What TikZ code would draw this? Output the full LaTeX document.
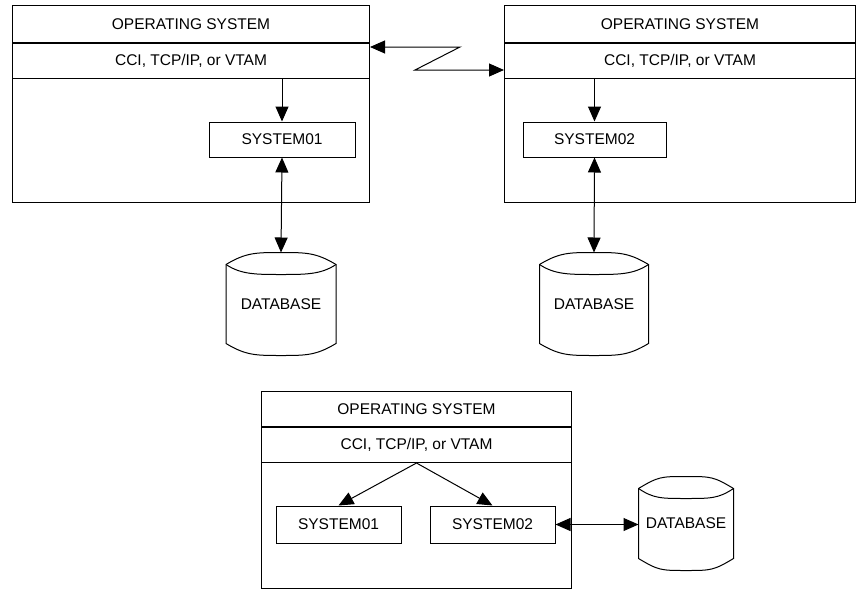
\documentclass[tikz,border=0pt]{standalone}
\usepackage{fontspec}
\setsansfont{Liberation Sans}
\usetikzlibrary{arrows.meta}

% cylinder outline drawn round a (blank) node
\newcommand{\drawdb}[1]{%
	\draw ([yshift=-12pt]#1.north west) .. controls +(20,-12) and +(-25,0) .. (#1.north)
	.. controls +(25,0) and +(-20,-12) .. ([yshift=-12pt]#1.north east)
	-- ([yshift=12pt]#1.south east) .. controls +(-20,12) and +(25,0) .. (#1.south)
	.. controls +(-25,0) and +(20,12) .. ([yshift=12pt]#1.south west) -- cycle;
	\draw ([yshift=-12pt]#1.north west) .. controls +(15,10) and +(-25,0) .. ([yshift=-22pt]#1.north)
	.. controls +(25,0) and +(-15,10) .. ([yshift=-12pt]#1.north east);
}

\begin{document}
\begin{tikzpicture}[x=1pt, y=-1pt, font=\sffamily\fontsize{15.5}{18}\selectfont,
	line width=1pt,
	link/.style={-{Triangle[length=15pt,width=13pt]}},
	dlink/.style={{Triangle[length=15pt,width=13pt]}-{Triangle[length=15pt,width=13pt]}},
	frame/.style={draw, inner sep=0pt, anchor=north west, minimum height=197pt},
	row/.style={draw, inner sep=0pt, anchor=north west, minimum height=35pt},
	sysbox/.style={draw, inner sep=0pt, minimum height=35pt},
	dbase/.style={inner sep=0pt, minimum width=#1, minimum height=102pt}]
	\useasboundingbox (0,0) rectangle (856,589);
	%hosts
	\foreach \n/\x/\w in {1/12/357, 2/504/351}{
		\node[frame, minimum width=\w pt] (host\n) at (\x,5) {};
		\node[row, minimum width=\w pt, minimum height=37pt] (os\n) at (host\n.north west) {OPERATING SYSTEM};
		\node[row, minimum width=\w pt] (net\n) at (os\n.south west) {CCI, TCP/IP, or VTAM};
	}
	\node[frame, minimum width=310pt] (host3) at (261,391) {};
	\node[row, minimum width=310pt] (os3) at (host3.north west) {OPERATING SYSTEM};
	\node[row, minimum width=310pt] (net3) at (os3.south west) {CCI, TCP/IP, or VTAM};
	%systems
	\node[sysbox, minimum width=146pt] (sysA) at (282,139.5) {SYSTEM01};
	\node[sysbox, minimum width=143pt] (sysB) at (594.5,139.5) {SYSTEM02};
	\node[sysbox, minimum width=125pt, minimum height=37pt] (sysC) at (338.5,524.5) {SYSTEM01};
	\node[sysbox, minimum width=125pt, minimum height=37pt] (sysD) at (492.5,524.5) {SYSTEM02};
	%databases
	\node[dbase=109pt] (dbA) at (281,304) {DATABASE};
	\node[dbase=108pt] (dbB) at (594,304) {DATABASE};
	\node[dbase=94pt, minimum height=93pt] (dbC) at (686,523.5) {DATABASE};
	\drawdb{dbA}
	\drawdb{dbB}
	\drawdb{dbC}
	%links
	\draw[link] (sysA.north |- net1.south) -- (sysA.north);
	\draw[link] (sysB.north |- net2.south) -- (sysB.north);
	\draw[dlink] (sysA.south) -- (dbA.north);
	\draw[dlink] (sysB.south) -- (dbB.north);
	\draw[link] (net3.south) -- (sysC.north);
	\draw[link] (net3.south) -- (sysD.north);
	\draw[dlink] (sysD.east) -- (sysD.east -| dbC.west);
	\coordinate (zigA) at (460,47);
	\coordinate (zigB) at (415,70);
	\draw[dlink] (host1.east |- zigA) -- (zigA) -- (zigB) -- (host2.west |- zigB);
\end{tikzpicture}
\end{document}
